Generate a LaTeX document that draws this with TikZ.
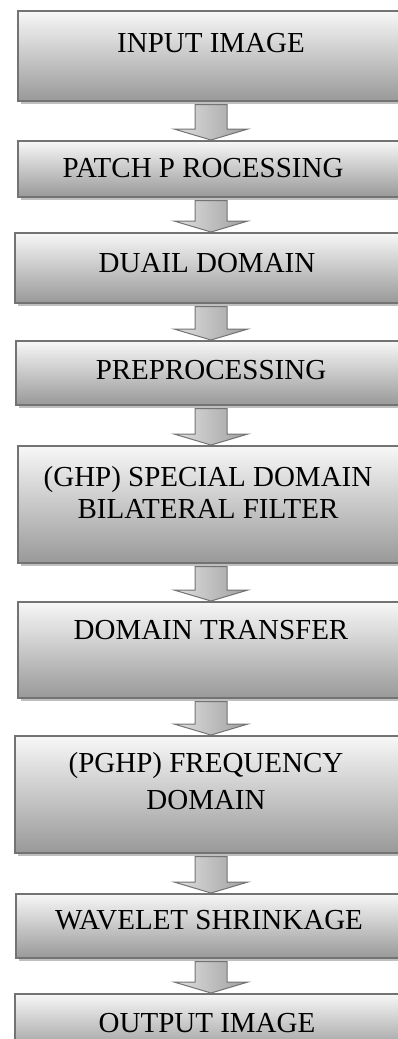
\documentclass[tikz,border=0pt]{standalone}
\usepackage{fontspec}
\setmainfont{Liberation Serif}
\usetikzlibrary{shadows, calc}

\begin{document}
\begin{tikzpicture}[
    x=1pt, y=-1pt,
    box/.style={rectangle, draw=black!55, line width=1.5pt, anchor=north west, minimum width=400pt, inner sep=0pt, top color=black!3, bottom color=black!40, drop shadow={shadow xshift=3pt, shadow yshift=-3pt, fill=black!25, opacity=1}},
    lbl/.style={anchor=north, inner sep=0pt, align=center, font=\fontsize{29}{33}\selectfont},
    flow/.style={draw=black!55, line width=1pt, left color=black!12, right color=black!38}
]
    \useasboundingbox (0,0) rectangle (398,1039);

    % Boxes
    \node[box, minimum height=90pt] (inp) at (17,10) {};
    \node[box, minimum height=56pt] (pat) at (17,140) {};
    \node[box, minimum height=70pt] (dua) at (14,232) {};
    \node[box, minimum height=64pt] (pre) at (15,340) {};
    \node[box, minimum height=117pt] (ghp) at (17,445) {};
    \node[box, minimum height=96pt] (trf) at (17,601) {};
    \node[box, minimum height=117pt] (pghp) at (14,735) {};
    \node[box, minimum height=64pt] (wav) at (15,893) {};
    \node[box, minimum height=60pt] (out) at (14,993) {};

    % Texts
    \node[lbl] (t-inp) at (211,33) {INPUT IMAGE};
    \node[lbl] (t-pat) at (203,158) {PATCH P ROCESSING};
    \node[lbl] (t-dua) at (207,253) {DUAIL DOMAIN};
    \node[lbl] (t-pre) at (211,360) {PREPROCESSING};
    \node[lbl, font=\fontsize{29}{32}\selectfont] (t-ghp) at (208,466) {(GHP) SPECIAL DOMAIN\\BILATERAL FILTER};
    \node[lbl] (t-trf) at (211,620) {DOMAIN TRANSFER};
    \node[lbl, font=\fontsize{29}{37}\selectfont] (t-pghp) at (206,752) {(PGHP) FREQUENCY\\DOMAIN};
    \node[lbl] (t-wav) at (209,910) {WAVELET SHRINKAGE};
    \node[lbl] (t-out) at (207,1013) {OUTPUT IMAGE};

    % Block arrows
    \coordinate (ax) at (211,0);
    \foreach \a/\b in {inp/pat, pat/dua, dua/pre, pre/ghp, ghp/trf, trf/pghp, pghp/wav, wav/out} {
      \coordinate (s) at ($(\a.south -| ax)+(0,3)$);
      \coordinate (e) at (\b.north -| ax);
      \draw[flow] ([xshift=-16pt]s) -- ([xshift=-16pt,yshift=11pt]e) -- ([xshift=-37pt,yshift=11pt]e)
        -- (e) -- ([xshift=37pt,yshift=11pt]e) -- ([xshift=16pt,yshift=11pt]e) -- ([xshift=16pt]s) -- cycle;
    }
\end{tikzpicture}
\end{document}
